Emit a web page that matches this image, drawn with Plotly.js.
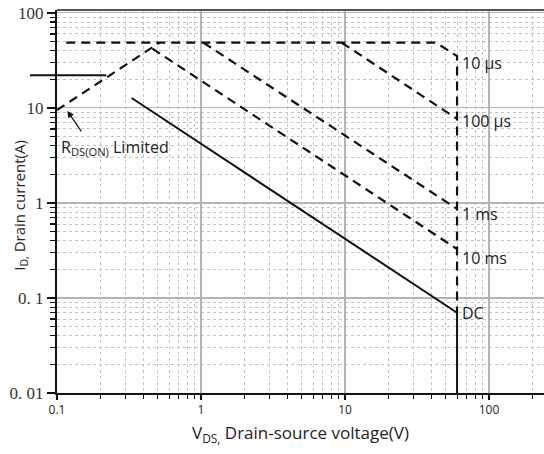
<!DOCTYPE html>
<html>
<head>
<meta charset="utf-8">
<script src="https://cdn.plot.ly/plotly-3.0.1.min.js"></script>
<style>html,body{margin:0;padding:0;background:#fff;}#chart{width:544px;height:454px;}</style>
</head>
<body>
<div id="chart"></div>
<script>
// ---- data (V in volts, I in amps) ----
const rdsV = [0.1, 0.515];
const rdsI = [9.5, 48.5];
const us10V = [0.116, 43, 60, 60];
const us10I = [48.5, 48.5, 35, 0.07];
const us100V = [9.5, 60];
const us100I = [48.5, 7.66];
const ms1V = [1.04, 60];
const ms1I = [48.5, 0.865];
const ms10V = [0.46, 60];
const ms10I = [42, 0.327];
const dcV = [0.33, 60, 60];
const dcI = [12.7, 0.07, 0.01];
const markV = [0.065, 0.22];
const markI = 22;

const curveLabels = ['10 µs', '100 µs', '1 ms', '10 ms', 'DC'];
const curveLabelI = [29.8, 7.3, 0.765, 0.263, 0.07];
const labelV = 60;

const xTickVals = [0.1, 1, 10, 100];
const xTickText = ['0.1', '1', '10', '100'];
const yTickVals = [0.01, 0.1, 1, 10, 100];
const yTickText = ['0. 01', '0. 1', '1', '10', '100'];

const xRange = [-1, 2.382];
const yRange = [-2, 2.03];

function minorVals(startExp, endExp) {
  const v = [];
  for (let e = startExp; e <= endExp; e++) {
    for (let m = 2; m <= 9; m++) v.push(m * Math.pow(10, e));
  }
  return v;
}

const dashLine = {color: '#111', width: 2.2, dash: '9px,6px'};
function tr(x, y, line) {
  return {x: x, y: y, type: 'scatter', mode: 'lines', line: line, hoverinfo: 'skip', showlegend: false};
}

const traces = [
  tr(rdsV, rdsI, dashLine),
  tr(us10V, us10I, dashLine),
  tr(us100V, us100I, dashLine),
  tr(ms1V, ms1I, dashLine),
  tr(ms10V, ms10I, dashLine),
  tr(dcV, dcI, {color: '#111', width: 2})
];

const toPaperX = v => (Math.log10(v) - xRange[0]) / (xRange[1] - xRange[0]);

const annotations = curveLabels.map((t, i) => ({
  x: Math.log10(labelV), y: Math.log10(curveLabelI[i]), xref: 'x', yref: 'y',
  text: t, showarrow: false, xanchor: 'left', yanchor: 'middle', xshift: 3,
  font: {family: 'Open Sans', size: 16, color: '#222'}
}));
annotations.push({
  x: Math.log10(0.104), y: Math.log10(3.8), xref: 'x', yref: 'y',
  text: 'R<sub>DS(ON)</sub> Limited', showarrow: false, xanchor: 'left', yanchor: 'middle',
  font: {family: 'Open Sans', size: 16, color: '#222'}
});
annotations.push({
  x: Math.log10(0.118), y: Math.log10(9.3), xref: 'x', yref: 'y',
  text: '', showarrow: true, ax: 15, ay: 22, arrowhead: 2, arrowsize: 1.1, arrowwidth: 1.2, arrowcolor: '#111'
});
// y-axis title placed as an annotation so it can sit closer to the tick labels
annotations.push({
  x: -0.075, y: 0.49, xref: 'paper', yref: 'paper', textangle: -90,
  text: 'I<sub>D,</sub> Drain current(A)', showarrow: false, xanchor: 'center', yanchor: 'middle',
  font: {family: 'Open Sans', size: 15, color: '#222'}
});

const layout = {
  width: 544, height: 454,
  margin: {l: 57, r: 0, t: 10, b: 61},
  paper_bgcolor: '#fff', plot_bgcolor: '#fff',
  showlegend: false,
  xaxis: {
    type: 'log', range: xRange,
    tickmode: 'array', tickvals: xTickVals, ticktext: xTickText,
    ticks: 'outside', ticklen: 5, tickwidth: 1.2, tickcolor: '#111',
    tickfont: {family: 'Open Sans', size: 12, color: '#222'},
    showline: true, linecolor: '#111', linewidth: 2,
    showgrid: true, gridcolor: '#b4b4b4', gridwidth: 1.2,
    zeroline: false,
    minor: {tickvals: minorVals(-1, 2), ticks: 'outside', ticklen: 4, tickcolor: '#111', tickwidth: 1,
            showgrid: true, gridcolor: '#c4c4c4', griddash: 'dot', gridwidth: 1},
    title: {text: 'V<sub>DS,</sub> Drain-source voltage(V)', font: {family: 'Open Sans', size: 17, color: '#222'}, standoff: 10}
  },
  yaxis: {
    type: 'log', range: yRange,
    tickmode: 'array', tickvals: yTickVals, ticktext: yTickText,
    ticks: 'outside', ticklen: 8, tickwidth: 1.5, tickcolor: '#111',
    tickfont: {family: 'Liberation Serif', size: 17, color: '#333'},
    showline: true, linecolor: '#111', linewidth: 2,
    showgrid: true, gridcolor: '#b4b4b4', gridwidth: 1.2,
    zeroline: false,
    minor: {tickvals: minorVals(-2, 1), ticks: 'outside', ticklen: 5, tickcolor: '#111', tickwidth: 1.2,
            showgrid: true, gridcolor: '#c4c4c4', griddash: 'dot', gridwidth: 1}
  },
  shapes: [
    {type: 'line', xref: 'paper', yref: 'paper', x0: 0, x1: 1, y0: 1, y1: 1, line: {color: '#555', width: 2}},
    {type: 'line', xref: 'paper', yref: 'y', x0: toPaperX(markV[0]), x1: toPaperX(markV[1]),
     y0: markI, y1: markI, line: {color: '#111', width: 2}}
  ],
  annotations: annotations
};

Plotly.newPlot('chart', traces, layout, {displayModeBar: false, staticPlot: true});
</script>
</body>
</html>
